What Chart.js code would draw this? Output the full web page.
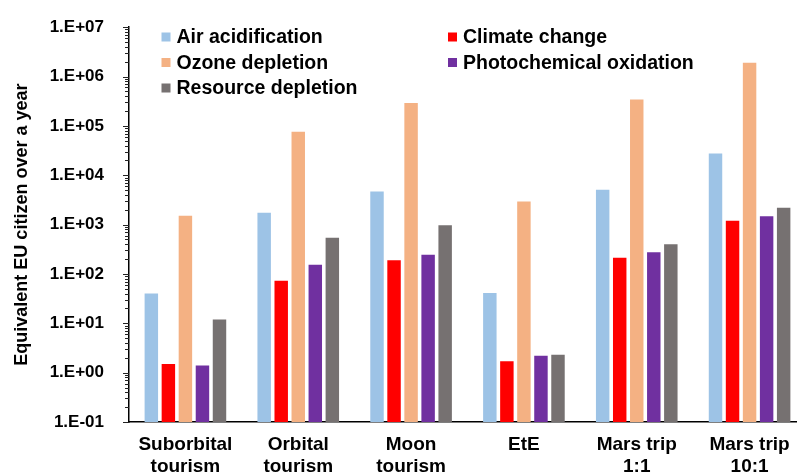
<!DOCTYPE html>
<html>
<head>
<meta charset="utf-8">
<script src="https://cdn.jsdelivr.net/npm/chart.js@4/dist/chart.umd.min.js"></script>
<style>
  html, body { margin: 0; padding: 0; background: #fff; overflow: hidden; }
  #wrap { position: relative; width: 810px; height: 475px; }
</style>
</head>
<body>
<div id="wrap"><canvas id="c" width="810" height="475"></canvas></div>
<script>
// Impact categories per space mission scenario, in equivalent EU citizens per year
const categories = [
  ['Suborbital', 'tourism'],
  ['Orbital', 'tourism'],
  ['Moon', 'tourism'],
  'EtE',
  ['Mars trip', '1:1'],
  ['Mars trip', '10:1']
];
const airAcidification       = [40, 1740, 4670, 41, 5100, 27700];
const climateChange          = [1.5, 73, 190, 1.7, 212, 1190];
const ozoneDepletion         = [1510, 76000, 290000, 2940, 344000, 1900000];
const photochemicalOxidation = [1.4, 153, 244, 2.2, 275, 1470];
const resourceDepletion      = [11.9, 540, 970, 2.3, 400, 2190];
const yTickValues = [1e-1, 1e0, 1e1, 1e2, 1e3, 1e4, 1e5, 1e6, 1e7];

const FONT = '"Liberation Sans", Arial, sans-serif';

function sciLabel(v) {
  const e = Math.round(Math.log10(v));
  const s = e < 0 ? '-' : '+';
  return '1.E' + s + String(Math.abs(e)).padStart(2, '0');
}

// Legend drawn in two columns inside the plot area
const legendInPlot = {
  id: 'legendInPlot',
  afterDraw(chart) {
    const ctx = chart.ctx;
    const slots = [
      [161.5, 37], [448, 37],
      [161.5, 62.5], [448, 62.5],
      [161.5, 88]
    ];
    ctx.save();
    ctx.font = 'bold 19.5px ' + FONT;
    ctx.textBaseline = 'middle';
    ctx.textAlign = 'left';
    chart.data.datasets.forEach((ds, i) => {
      const [x, y] = slots[i];
      ctx.fillStyle = ds.backgroundColor;
      ctx.fillRect(x, y - 4.5, 9, 9);
      ctx.fillStyle = '#000';
      ctx.fillText(ds.label, x + 15, y + 1);
    });
    ctx.restore();
  }
};

// Outer tick marks on the log axis: long at decades, short in between
const logTicks = {
  id: 'logTicks',
  afterDraw(chart) {
    const y = chart.scales.y;
    const ctx = chart.ctx;
    const x0 = y.right;
    ctx.save();
    ctx.strokeStyle = '#222';
    ctx.lineWidth = 1;
    for (let e = -1; e <= 6; e++) {
      for (let m = 1; m <= 9; m++) {
        const v = m * Math.pow(10, e);
        const py = Math.round(y.getPixelForValue(v)) + 0.5;
        const len = m === 1 ? 6 : 4;
        ctx.beginPath();
        ctx.moveTo(x0 - len, py);
        ctx.lineTo(x0, py);
        ctx.stroke();
      }
    }
    const pTop = Math.round(y.getPixelForValue(1e7)) + 0.5;
    ctx.beginPath();
    ctx.moveTo(x0 - 6, pTop);
    ctx.lineTo(x0, pTop);
    ctx.stroke();
    ctx.restore();
  }
};

new Chart(document.getElementById('c'), {
  type: 'bar',
  data: {
    labels: categories,
    datasets: [
      { label: 'Air acidification', data: airAcidification, backgroundColor: '#9DC3E6' },
      { label: 'Climate change', data: climateChange, backgroundColor: '#FF0000' },
      { label: 'Ozone depletion', data: ozoneDepletion, backgroundColor: '#F4B183' },
      { label: 'Photochemical oxidation', data: photochemicalOxidation, backgroundColor: '#7030A0' },
      { label: 'Resource depletion', data: resourceDepletion, backgroundColor: '#767171' }
    ]
  },
  options: {
    responsive: false,
    animation: false,
    layout: { padding: { top: 23, right: 4, left: 0, bottom: 0 } },
    datasets: {
      bar: { categoryPercentage: 0.755, barPercentage: 0.79 }
    },
    plugins: {
      legend: { display: false },
      tooltip: { enabled: false }
    },
    scales: {
      x: {
        grid: { display: false },
        border: { display: true, color: '#000', width: 1.5 },
        ticks: {
          color: '#000',
          font: { family: FONT, size: 19, weight: 'bold', lineHeight: '22px' },
          padding: 4,
          maxRotation: 0,
          autoSkip: false
        },
        afterFit(scale) { scale.height = 475 - 422; }
      },
      y: {
        type: 'logarithmic',
        min: 0.1,
        max: 1e7,
        grid: { display: false },
        border: { display: true, color: '#000', width: 1.5 },
        afterBuildTicks(scale) {
          scale.ticks = yTickValues.map(v => ({ value: v, major: true }));
        },
        ticks: {
          color: '#000',
          autoSkip: false,
          padding: 17,
          font: { family: FONT, size: 17, weight: 'bold' },
          callback: (v) => sciLabel(v)
        },
        title: {
          display: true,
          text: 'Equivalent EU citizen over a year',
          color: '#000',
          font: { family: FONT, size: 18, weight: 'bold' },
          padding: { top: 11, bottom: 0 }
        },
        afterFit(scale) { scale.width = 129; }
      }
    }
  },
  plugins: [legendInPlot, logTicks]
});
</script>
</body>
</html>
